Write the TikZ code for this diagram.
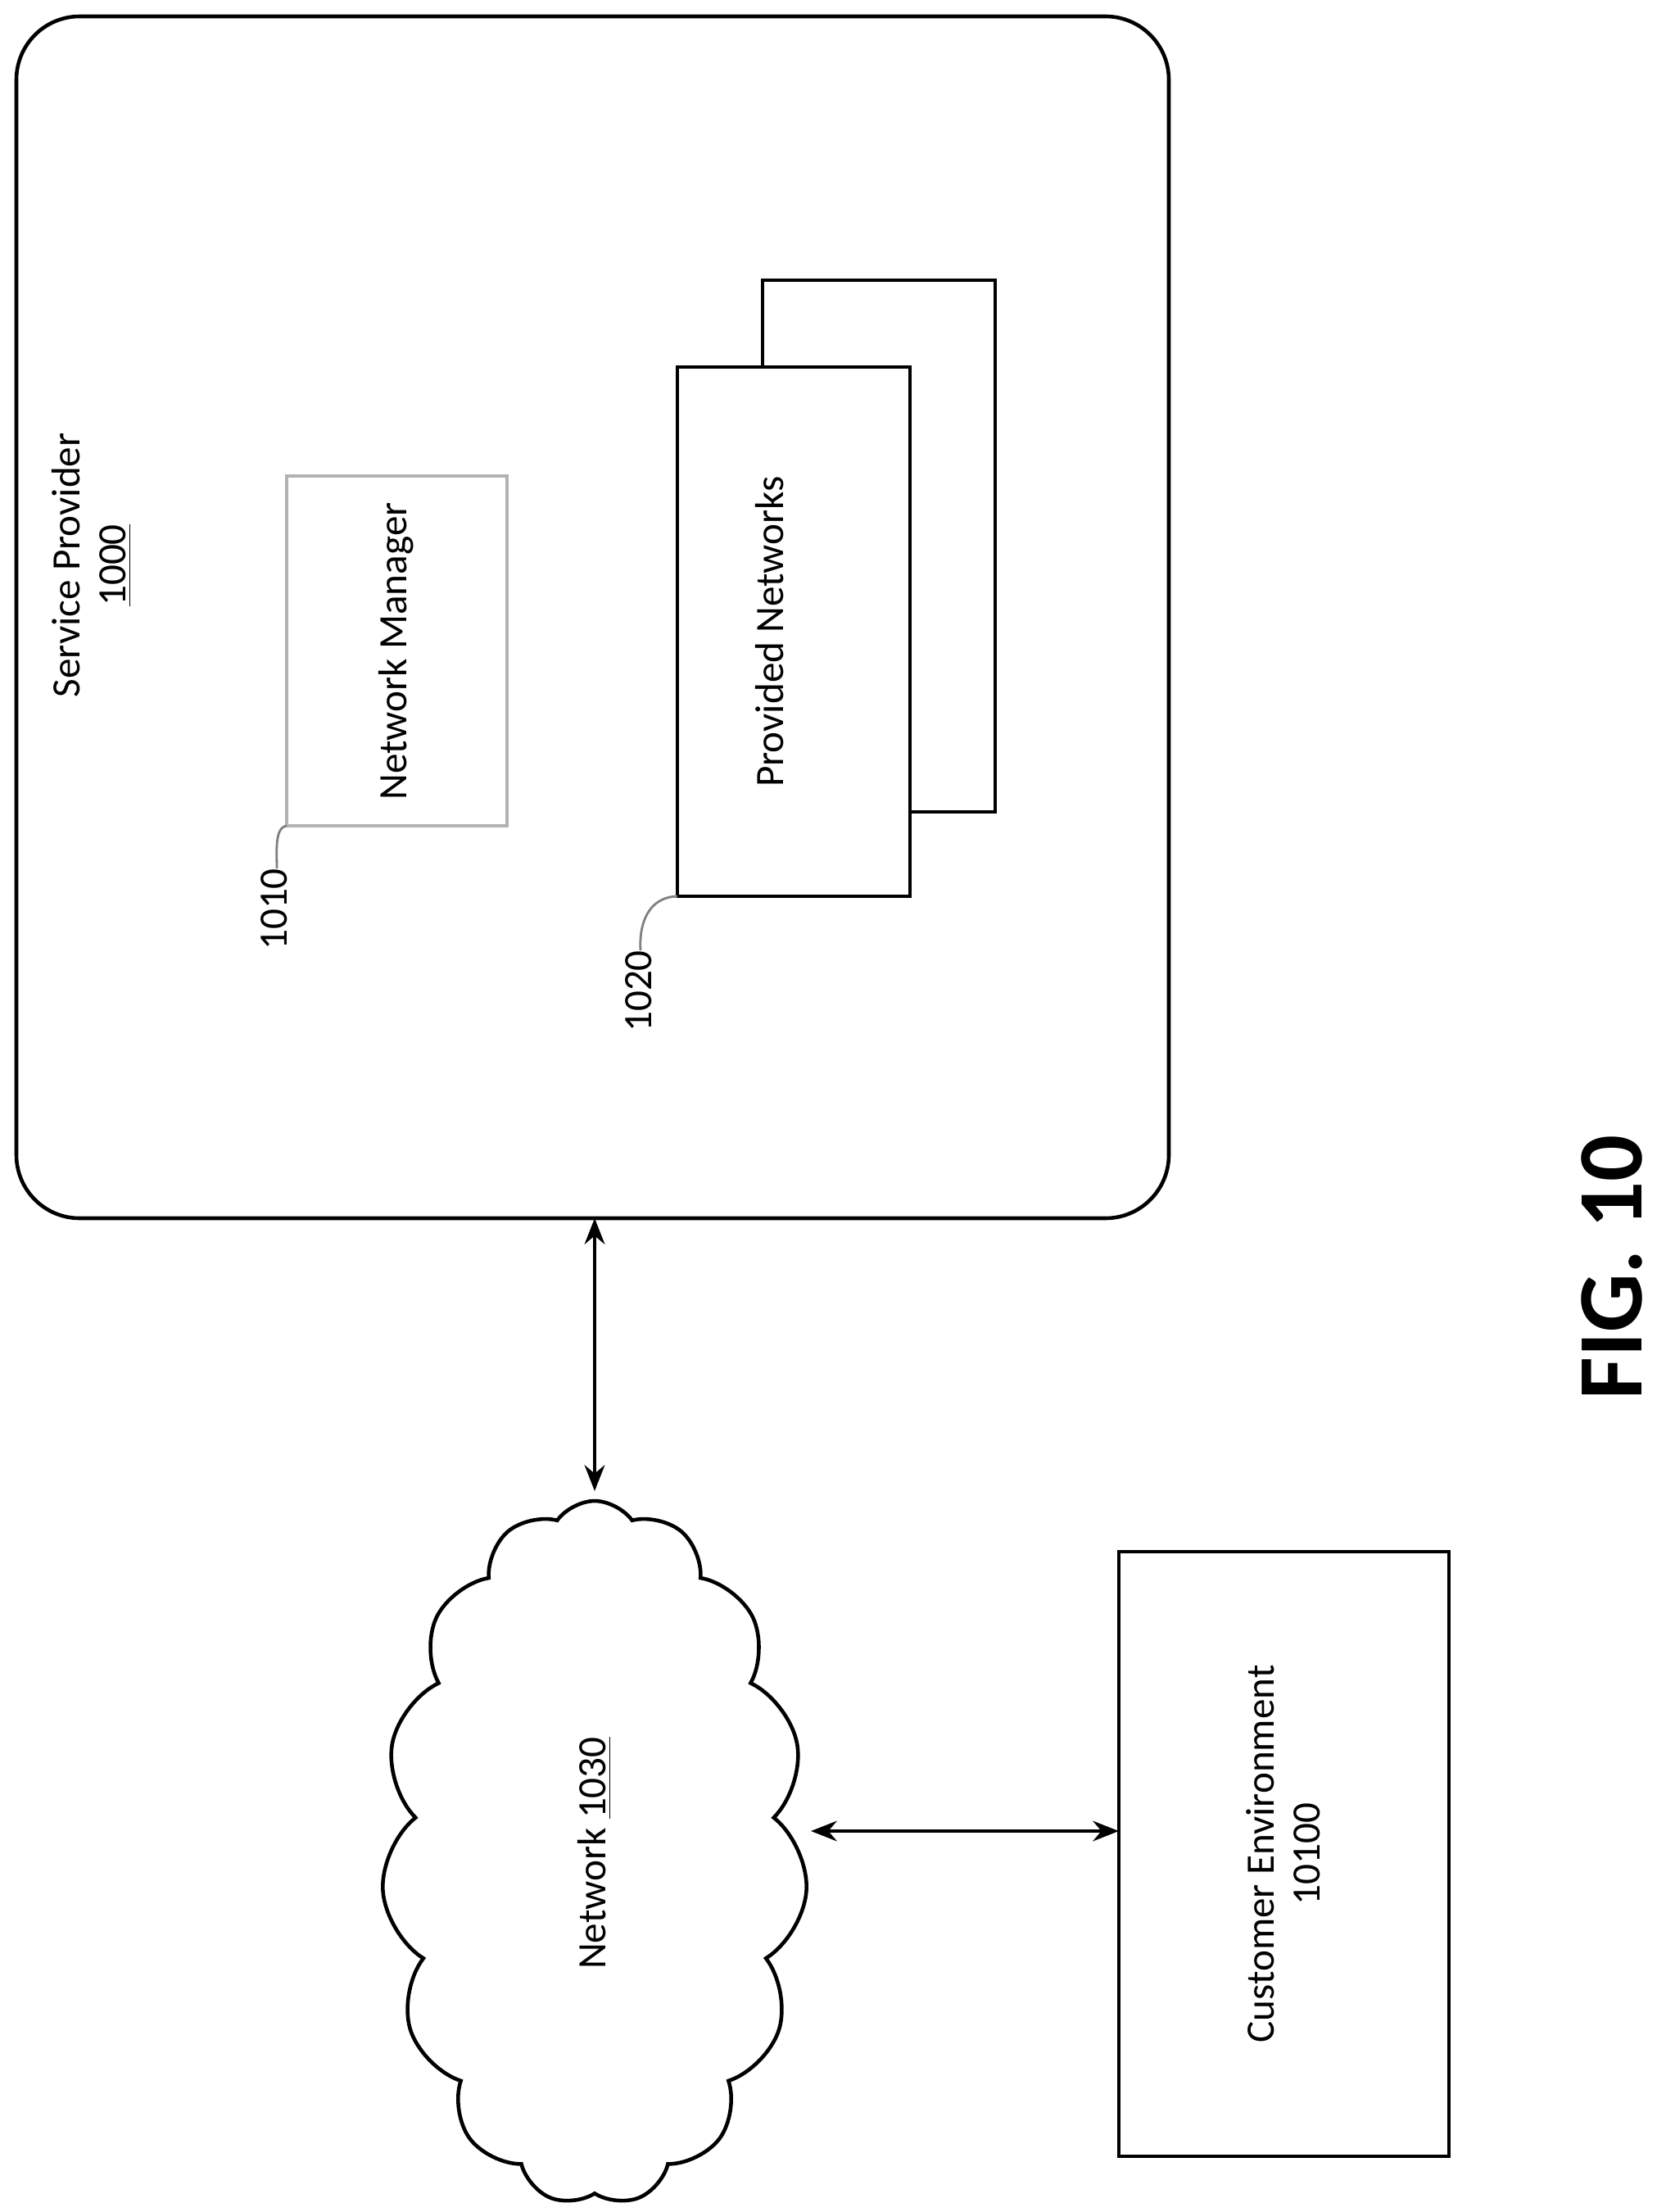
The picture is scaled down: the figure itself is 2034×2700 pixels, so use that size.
\documentclass[tikz,border=0pt]{standalone}
\usepackage{fontspec}
\setmainfont{Carlito}
\usetikzlibrary{shapes.symbols,arrows.meta}
\begin{document}
\begin{tikzpicture}[x=0.1mm,y=-0.1mm,
  lbl/.style={font=\fontsize{14}{16}\selectfont,rotate=90},
  box/.style={draw,line width=1.2pt,fill=white},
  arr/.style={line width=1.3pt,{Stealth[length=9pt,width=7pt]}-{Stealth[length=9pt,width=7pt]}}]
\useasboundingbox (0,0) rectangle (2034,2700);
\draw[line width=1.3pt,rounded corners=22] (20,20) rectangle (1427,1487);
\node[lbl,align=center] (sp) at (112,690) {Service Provider\\\underline{1000}};
\draw[gray!60,line width=1pt] (350,581) rectangle (619,1008);
\node[lbl] (nm) at (484,795) {Network Manager};
\draw[box] (931,342) rectangle (1215,991);
\draw[box] (827,448) rectangle (1111,1094);
\node[lbl] (pn) at (940,771) {Provided Networks};
\node[lbl] (l1010) at (335,1110) {1010};
\draw[gray,line width=0.8pt] (350,1008) .. controls (335,1010) and (338,1040) .. (338,1060);
\node[lbl] (l1020) at (780,1210) {1020};
\draw[gray,line width=0.8pt] (827,1094) .. controls (790,1095) and (780,1130) .. (782,1160);
\node[cloud,draw,line width=1.3pt,cloud puffs=15,cloud puff arc=110,cloud ignores aspect,
  minimum width=52mm,minimum height=86mm,inner sep=0] (net) at (726,2262) {};
\node[lbl] at (net.center) {Network \underline{1030}};
\draw[box] (1366,1894) rectangle (1769,2632);
\node[lbl,align=center] (ce) at (1567,2263) {Customer Environment\\10100};
\draw[arr] (726,1487) -- (726,1820);
\draw[arr] (990,2235) -- (1366,2235);
\node[rotate=90,font=\bfseries\fontsize{32}{36}\selectfont] (fig) at (1968,1547) {FIG. 10};
\end{tikzpicture}
\end{document}
